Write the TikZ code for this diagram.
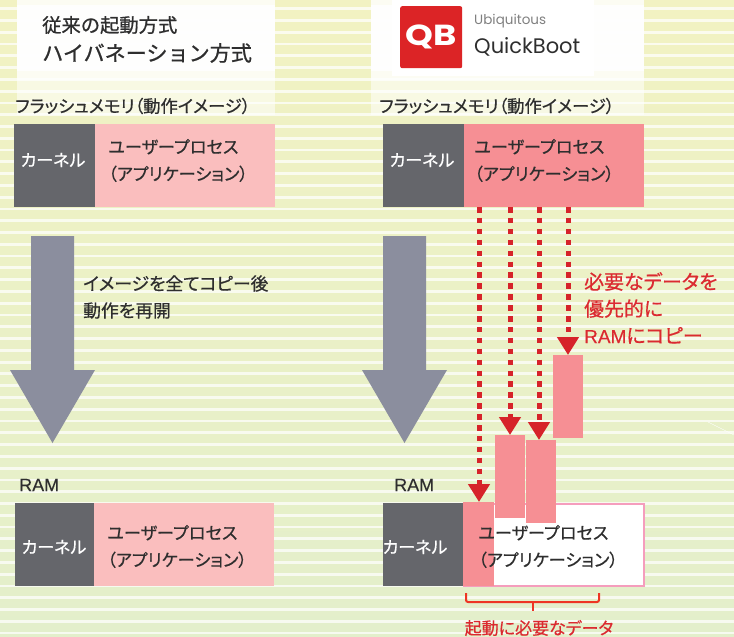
\documentclass[tikz,border=0pt]{standalone}
\usepackage{fontspec}
\setmainfont[RawFeature={+palt}, FakeBold=0.6]{Noto Sans CJK JP}
\newfontfamily\titlefont[FakeBold=0.9]{Noto Sans CJK JP}
\newfontfamily\logofont{Poppins}
\newfontfamily\ramfont[FakeBold=0.2]{Liberation Sans}
\usetikzlibrary{arrows.meta}
\definecolor{bgtop}{HTML}{F2F2C2}
\definecolor{bgbot}{HTML}{E3EFCB}
\definecolor{kernelgray}{HTML}{65666B}
\definecolor{lightpink}{HTML}{FABEBE}
\definecolor{midpink}{HTML}{F68F94}
\definecolor{borderpink}{HTML}{F59DBD}
\definecolor{arrowgray}{HTML}{8B8E9E}
\definecolor{copyred}{HTML}{D6232A}
\definecolor{notered}{HTML}{DB2A30}
\definecolor{bracered}{HTML}{EE3524}
\definecolor{logored}{HTML}{DC2426}
\definecolor{inkdark}{HTML}{2E2E2E}
\begin{document}
\begin{tikzpicture}[
    x = 1pt,
    y = -1pt,
    > = {Triangle[width=21pt, length=18pt]},
    area/.style = {inner sep = 0pt, outer sep = 0pt, minimum height = 83pt, anchor = north west},
    kernel/.style = {area, fill = kernelgray, minimum width = 81pt},
    kerntext/.style = {inner sep = 0pt, text = white, font = \fontsize{17}{20}\selectfont},
    userproc/.style = {area, minimum width = 180pt},
    proctext/.style = {inner sep = 0pt, anchor = west, text = inkdark, align = left, font = \fontsize{17.2}{27}\selectfont},
    piece/.style = {inner sep = 0pt, outer sep = 0pt, fill = midpink, minimum width = 30pt, minimum height = 83pt, anchor = north west},
    flashtext/.style = {inner sep = 0pt, anchor = west, text = inkdark, font = \fontsize{17.3}{18}\selectfont},
    ramtext/.style = {inner sep = 0pt, anchor = west, text = inkdark, font = \ramfont\fontsize{18}{20}\selectfont},
    titletext/.style = {inner sep = 0pt, anchor = west, text = inkdark, font = \titlefont\fontsize{19.3}{22}\selectfont},
    copyline/.style = {->, copyred, line width = 5pt, dash pattern = on 5.5pt off 5.4pt},
    bigarrow/.style = {fill = arrowgray},
    ]

    \useasboundingbox (0, 0) rectangle (734, 637);

    % striped background
    \shade[top color = bgtop, bottom color = bgbot] (0, 0) rectangle (734, 637);
    \foreach \i in {0, 1, ..., 53}{
        \fill[white, opacity = 0.72] (0, 7.3 + \i*11.78) rectangle (734, 10.1 + \i*11.78);
    }
    \coordinate (crackA) at (708, 422);
    \coordinate (crackB) at (734, 435);
    \draw[white, thin] (crackA) -- (crackB);

    % title panels
    \foreach \x/\w in {17/258, 371/273}{
        \fill[white, opacity = 0.55] (\x, 0) rectangle +(\w, 115);
        \fill[white, opacity = 0.6] (\x, 0) rectangle +(\w, 80);
        \fill[white, opacity = 0.9] (\x, 5) rectangle +(\w, 66);
    }
    \fill[white] (392, 0) rectangle (594, 76);

    \node[titletext] (title1) at (42, 25) {従来の起動方式};
    \node[titletext, font = \titlefont\fontsize{21.1}{24}\selectfont] (title2) at (42, 53) {ハイバネーション方式};

    % logo
    \node[fill = logored, rounded corners = 2pt, minimum size = 62pt, inner sep = 0pt, anchor = north west] (logo) at (400, 6) {};
    \node[inner sep = 0pt, text = white, font = \logofont\bfseries\fontsize{29}{29}\selectfont] (qb) at (logo.center) {\scalebox{1.22}[1]{QB}};
    \node[inner sep = 0pt, anchor = west, text = black!50, font = \logofont\fontsize{13.5}{15}\selectfont] (ubiq) at (474, 21) {Ubiquitous};
    \node[inner sep = 0pt, anchor = west, text = inkdark, font = \logofont\fontsize{21}{24}\selectfont] (qboot) at (474, 47) {QuickBoot};

    % flash, left
    \node[flashtext] (flashL) at (15, 106) {フラッシュメモリ（動作イメージ）};
    \node[kernel] (kernFL) at (14, 124) {};
    \node[kerntext] (kernFLt) at (53, 160) {カーネル};
    \node[userproc, fill = lightpink] (userFL) at (95, 124) {};
    \node[proctext] (userFLt) at (108, 160.5) {ユーザープロセス\\（アプリケーション）};

    % flash, right
    \node[flashtext] (flashR) at (379, 106) {フラッシュメモリ（動作イメージ）};
    \node[kernel] (kernFR) at (383, 124) {};
    \node[kerntext] (kernFRt) at (422, 160) {カーネル};
    \node[userproc, fill = midpink] (userFR) at (464, 124) {};
    \node[proctext] (userFRt) at (474, 160.5) {ユーザープロセス\\（アプリケーション）};

    % big arrows
    \foreach \x in {0, 352}{
        \fill[bigarrow] (31 + \x, 236) -- (74 + \x, 236) -- (74 + \x, 370) -- (95 + \x, 370)
            -- (52.5 + \x, 443) -- (10 + \x, 370) -- (31 + \x, 370) -- cycle;
    }
    \node[inner sep = 0pt, anchor = west, text = inkdark, align = left, font = \fontsize{17.8}{27}\selectfont] (note) at (83, 297) {イメージを全てコピー後\\動作を再開};

    % RAM, left
    \node[ramtext] (ramL) at (19, 485) {RAM};
    \node[kernel, minimum width = 79pt] (kernRL) at (15, 503) {};
    \node[kerntext] (kernRLt) at (54, 547) {カーネル};
    \node[userproc, fill = lightpink] (userRL) at (94, 503) {};
    \node[proctext] (userRLt) at (107, 546.5) {ユーザープロセス\\（アプリケーション）};

    % RAM, right
    \node[ramtext] (ramR) at (394, 485) {RAM};
    \node[kernel, minimum width = 80pt] (kernRR) at (383, 503) {};
    \node[kerntext] (kernRRt) at (415, 547) {カーネル};
    \node[area, minimum width = 180pt, minimum height = 81.5pt, fill = white, draw = borderpink, line width = 2pt] (userRR) at (464, 504) {};
    \node[piece, minimum width = 31pt, minimum height = 84pt] (pieceA) at (463, 502) {};
    \node[proctext] (userRRt) at (478, 546.5) {ユーザープロセス\\（アプリケーション）};

    % blocks being copied
    \node[piece] (pieceB) at (495, 435) {};
    \node[piece] (pieceC) at (526, 440) {};
    \node[piece] (pieceD) at (553, 355) {};

    \coordinate (srcA) at (479, 207);
    \coordinate (srcB) at (510, 207);
    \coordinate (srcC) at (539, 207);
    \coordinate (srcD) at (568, 207);
    \draw[copyline] (srcA) -- (srcA |- pieceA.north);
    \draw[copyline] (srcB) -- (srcB |- pieceB.north);
    \draw[copyline] (srcC) -- (srcC |- pieceC.north);
    \draw[copyline] (srcD) -- (srcD |- pieceD.north);

    \node[inner sep = 0pt, anchor = west, text = notered, align = left, font = \fontsize{19.9}{27}\selectfont] (why) at (584, 308) {必要なデータを\\優先的に\\{\ramfont\fontsize{19}{27}\selectfont RAM}にコピー};

    % brace
    \coordinate (braceL) at (466, 593);
    \coordinate (braceR) at (599, 593);
    \coordinate (braceM) at (533, 602);
    \coordinate (braceS) at (533, 611);
    \draw[bracered, line width = 2pt, rounded corners = 2pt] (braceL) |- (braceM) -| (braceR);
    \draw[bracered, line width = 2pt] (braceM) -- (braceS);
    \node[inner sep = 0pt, text = notered, font = \fontsize{17}{18}\selectfont] (need) at (539, 628) {起動に必要なデータ};
\end{tikzpicture}
\end{document}
